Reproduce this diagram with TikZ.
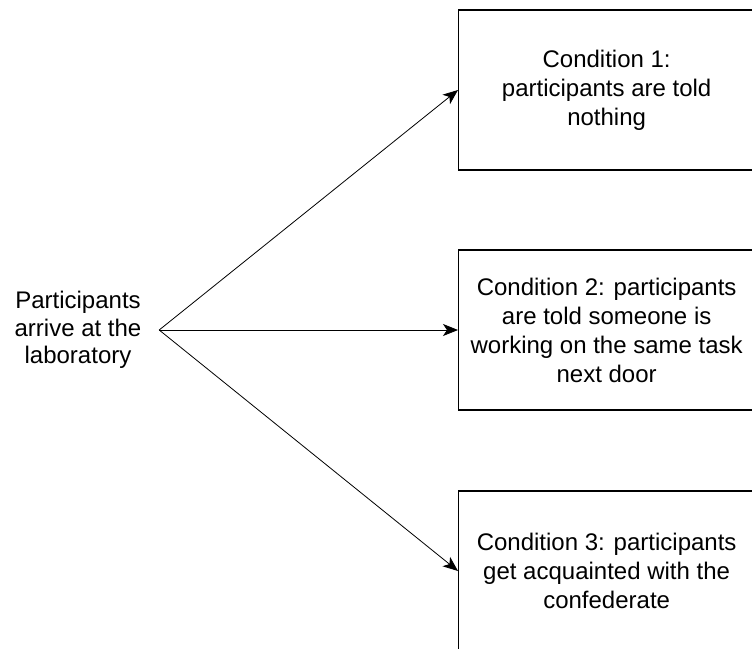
\documentclass[tikz,border=0pt]{standalone}
\usepackage{fontspec}
\setmainfont{Liberation Sans}
\usetikzlibrary{positioning,arrows.meta}
\tikzset{
  condbox/.style={draw,line width=1.3pt,minimum width=296pt,minimum height=160pt,
    align=center,inner sep=0pt,anchor=west},
  arrowline/.style={-{Stealth[length=15pt,width=12pt,inset=4pt]},line width=0.8pt},
}
\begin{document}
\begin{tikzpicture}[x=1pt,y=-1pt,font=\fontsize{24}{29}\selectfont]
\useasboundingbox (0,0) rectangle (752,648);

% Text Node
\node[align=center,inner sep=0pt,minimum width=162pt,
  font=\fontsize{24}{27.5}\selectfont] (arrive) at (78,330)
  {Participants\\arrive at the\\laboratory};

% Condition boxes
\node[condbox] (cond1) at (458,90) {Condition 1:\\participants are told\\nothing};
\node[condbox] (cond2) at (458,330) {Condition 2: participants\\are told someone is\\working on the same task\\next door};
\node[condbox] (cond3) at (458,571) {Condition 3: participants\\get acquainted with the\\confederate};

% Arrows
\draw[arrowline] (arrive.east) -- (cond1.west);
\draw[arrowline] (arrive.east) -- (cond2.west);
\draw[arrowline] (arrive.east) -- (cond3.west);

\end{tikzpicture}
\end{document}
